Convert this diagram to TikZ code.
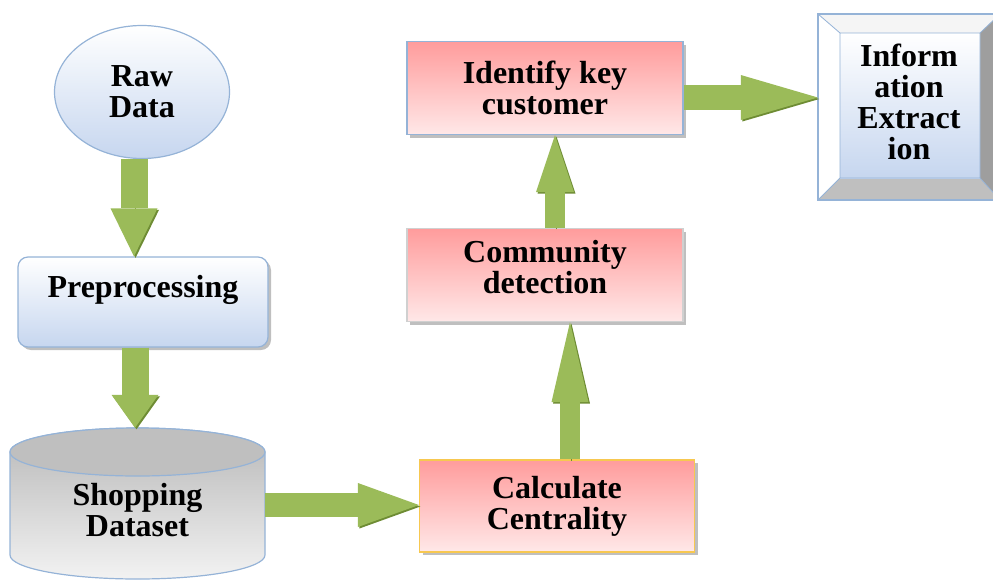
\documentclass[tikz,border=0pt]{standalone}
\usepackage{fontspec}
\setmainfont{Liberation Serif}
\usetikzlibrary{arrows.meta,shapes.geometric,shadows}

\definecolor{faceblue}{HTML}{C6D6EF}
\definecolor{lineblue}{HTML}{95B3D7}
\definecolor{boxpink}{HTML}{FF9C9C}
\definecolor{palepink}{HTML}{FFE8E8}
\definecolor{arrowgreen}{HTML}{9BBB59}
\definecolor{darkgreen}{HTML}{6E8C34}
\definecolor{edgeyellow}{HTML}{F7C850}
\definecolor{edgegrey}{HTML}{D0D0D0}

\def\boxw{276pt}
\def\boxh{93pt}

\tikzset{
  txt/.style={font=\fontsize{32}{31}\selectfont\bfseries, align=center},
  boxshadow/.style={drop shadow={shadow xshift=3pt, shadow yshift=-3pt, fill=black!50, opacity=0.5}},
  bluebox/.style={txt, draw=lineblue, line width=1.2pt, top color=white, bottom color=faceblue},
  pinkbox/.style={txt, draw=lineblue, line width=1.2pt, top color=boxpink, bottom color=palepink,
    minimum width=\boxw, minimum height=\boxh, boxshadow},
  flow/.style n args={3}{draw=arrowgreen, line width=#1, -{Triangle[width=#2,length=#3,line width=0pt]},
    preaction={draw=darkgreen, transform canvas={xshift=1.5pt,yshift=-1.5pt}}},
}

\begin{document}
\begin{tikzpicture}[x=1pt,y=1pt]
  \useasboundingbox (0,0) rectangle (993,-579);

  % left column
  \node[bluebox, ellipse, minimum width=175pt, minimum height=133pt] (raw) at (142,-92) {Raw\\Data};
  \node[bluebox, rounded corners=10pt, minimum width=250pt, minimum height=90pt, text depth=31pt, boxshadow] (pre) at (143,-302) {Preprocessing};

  % dataset cylinder
  \path[draw=lineblue, line width=1.2pt, top color=black!28, bottom color=black!5]
    (10,-452) -- (10,-555) arc[start angle=180, end angle=360, x radius=127.5pt, y radius=24pt]
    -- (265,-452) arc[start angle=0, end angle=180, x radius=127.5pt, y radius=24pt] -- cycle;
  \path[draw=lineblue, line width=1.2pt, fill=black!25] (137.5,-452) ellipse[x radius=127.5pt, y radius=24pt];
  \node[txt, minimum width=255pt, minimum height=164pt] (ds) at (137.5,-510) {Shopping\\Dataset};

  % middle column
  \node[pinkbox, draw=edgeyellow, minimum width=275pt, minimum height=92pt] (calc) at (557,-506) {Calculate\\Centrality};
  \node[pinkbox, draw=edgegrey, text depth=16pt] (comm) at (545,-275) {Community\\detection};
  \node[pinkbox] (ident) at (545,-88) {Identify key\\customer};

  % bevelled box
  \fill[black!4] (818,-14) -- (1000,-14) -- (980,-33) -- (840,-33) -- cycle;
  \fill[white] (818,-14) -- (840,-33) -- (840,-178) -- (818,-200) -- cycle;
  \fill[black!38] (1000,-14) -- (1000,-200) -- (980,-178) -- (980,-33) -- cycle;
  \fill[black!25] (818,-200) -- (1000,-200) -- (980,-178) -- (840,-178) -- cycle;
  \shade[top color=white, bottom color=faceblue] (840,-33) rectangle (980,-178);
  \draw[lineblue, line width=0.8pt] (840,-33) rectangle (980,-178)
    (818,-14) -- (840,-33) (818,-200) -- (840,-178) (1000,-14) -- (980,-33) (1000,-200) -- (980,-178);
  \draw[lineblue, line width=1.2pt] (818,-14) rectangle (1000,-200);
  \node[txt, minimum width=182pt, minimum height=176pt] (info) at (909,-102) {Inform\\ation\\Extract\\ion};

  % arrows
  \draw[flow={27pt}{47pt}{48pt}] ([xshift=-8pt]raw.south) -- ([xshift=-9pt]pre.north);
  \draw[flow={27pt}{47pt}{33pt}] ([xshift=-8pt]pre.south) -- ([xshift=-2.5pt]ds.north);
  \draw[flow={24pt}{44pt}{61pt}] ([yshift=5pt]ds.east) -- ([yshift=1pt]calc.west);
  \draw[flow={20pt}{37pt}{80pt}] ([xshift=13pt]calc.north) -- ([xshift=25pt]comm.south);
  \draw[flow={20pt}{38pt}{57pt}] ([xshift=10pt]comm.north) -- ([xshift=10pt]ident.south);
  \draw[flow={25pt}{45pt}{77pt}] ([yshift=-9.5pt]ident.east) -- ([yshift=4.5pt]info.west);
\end{tikzpicture}
\end{document}
